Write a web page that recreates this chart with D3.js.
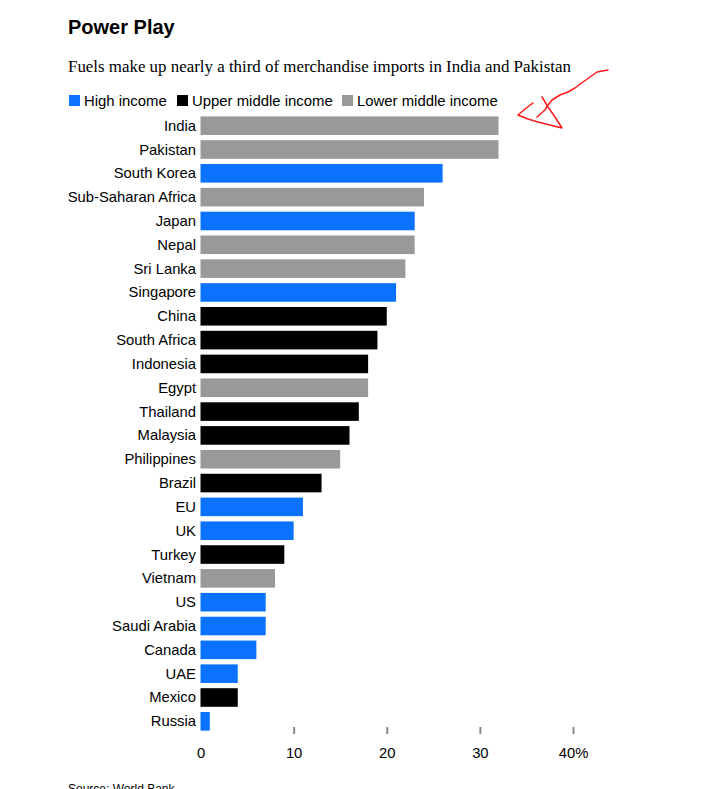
<!DOCTYPE html>
<html>
<head>
<meta charset="utf-8">
<title>Power Play</title>
<script src="https://d3js.org/d3.v7.min.js"></script>
<style>
  body { margin: 0; background: #fff; }
  text { font-family: "Liberation Sans", Arial, sans-serif; }
</style>
</head>
<body>
<script>
// data
var countries = ["India", "Pakistan", "South Korea", "Sub-Saharan Africa", "Japan", "Nepal",
  "Sri Lanka", "Singapore", "China", "South Africa", "Indonesia", "Egypt", "Thailand",
  "Malaysia", "Philippines", "Brazil", "EU", "UK", "Turkey", "Vietnam", "US",
  "Saudi Arabia", "Canada", "UAE", "Mexico", "Russia"];
var values = [32, 32, 26, 24, 23, 23, 22, 21, 20, 19, 18, 18, 17, 16, 15, 13, 11, 10, 9, 8, 7, 7, 6, 4, 4, 1];
var groups = ["Lower", "Lower", "High", "Lower", "High", "Lower", "Lower", "High", "Upper",
  "Upper", "Upper", "Lower", "Upper", "Upper", "Lower", "Upper", "High", "High", "Upper",
  "Lower", "High", "High", "High", "High", "Upper", "High"];
var groupKeys = ["High", "Upper", "Lower"];
var groupNames = ["High income", "Upper middle income", "Lower middle income"];
var tickValues = [0, 10, 20, 30, 40];

var w = 721, h = 789;
var svg = d3.select("body").append("svg")
  .attr("width", w)
  .attr("height", h);

var color = d3.scaleOrdinal().domain(groupKeys).range(["#0a72ff", "#000000", "#999999"]);

// title + subtitle
svg.append("text")
  .attr("x", 68).attr("y", 34)
  .style("font-size", "20px").style("font-weight", "bold")
  .text("Power Play");
svg.append("text")
  .attr("x", 68).attr("y", 72)
  .style("font-family", "'Liberation Serif', 'Times New Roman', serif")
  .style("font-size", "16.9px")
  .text("Fuels make up nearly a third of merchandise imports in India and Pakistan");

// legend
var lx = [69, 177, 342];
var legend = svg.selectAll(".leg")
  .data(groupKeys)
  .enter().append("g")
  .attr("class", "leg")
  .attr("transform", function(d, i) { return "translate(" + lx[i] + ",95)"; });
legend.append("rect")
  .attr("width", 11).attr("height", 11)
  .attr("fill", function(d) { return color(d); });
legend.append("text")
  .attr("x", 15).attr("y", 11)
  .style("font-size", "14.9px")
  .text(function(d, i) { return groupNames[i]; });

// scales
var x = d3.scaleLinear().domain([0, 40]).range([200.5, 573]);
var y = d3.scaleBand().domain(countries).range([114, 733]).paddingInner(0.22).paddingOuter(0.1);

// bars
svg.selectAll(".bar")
  .data(countries)
  .enter().append("rect")
  .attr("class", "bar")
  .attr("x", x(0))
  .attr("y", function(d) { return y(d); })
  .attr("width", function(d, i) { return x(values[i]) - x(0); })
  .attr("height", y.bandwidth())
  .attr("fill", function(d, i) { return color(groups[i]); });

// category labels
svg.selectAll(".lab")
  .data(countries)
  .enter().append("text")
  .attr("class", "lab")
  .attr("x", 196)
  .attr("y", function(d) { return y(d) + y.bandwidth() / 2 + 5; })
  .attr("text-anchor", "end")
  .style("font-size", "14.8px")
  .text(function(d) { return d; });

// x axis
var xAxis = d3.axisBottom(x)
  .tickValues(tickValues)
  .tickSize(7)
  .tickFormat(function(d) { return d === 40 ? d + "%" : d; });
var ax = svg.append("g").attr("transform", "translate(0,727)").call(xAxis);
ax.select(".domain").remove();
ax.selectAll(".tick line")
  .attr("stroke", "#888").attr("stroke-width", 2)
  .style("display", function(d) { return d === 0 ? "none" : null; });
ax.selectAll(".tick text")
  .attr("y", 20)
  .style("font-size", "14.8px")
  .style("font-family", "'Liberation Sans', Arial, sans-serif")
  .attr("fill", "#000");

// source
svg.append("text")
  .attr("x", 68).attr("y", 793)
  .style("font-size", "12px")
  .text("Source: World Bank");

// red hand-drawn annotation arrow
var arrow = svg.append("g")
  .attr("fill", "none")
  .attr("stroke", "#ff1a1a")
  .attr("stroke-width", 1.5)
  .attr("stroke-linejoin", "round")
  .attr("stroke-linecap", "round");
arrow.append("path")
  .attr("d", "M608,70 L597,72 L590,77 L583,82 L575,88 L568,92 L560,95 L552,100 L548,105 L545,110 L537,117");
arrow.append("path")
  .attr("d", "M542,97 L548,107 L555,117 L562,128 L550,125 L538,122 L528,119 L518,115 L525,109 L533,103");
</script>
</body>
</html>
